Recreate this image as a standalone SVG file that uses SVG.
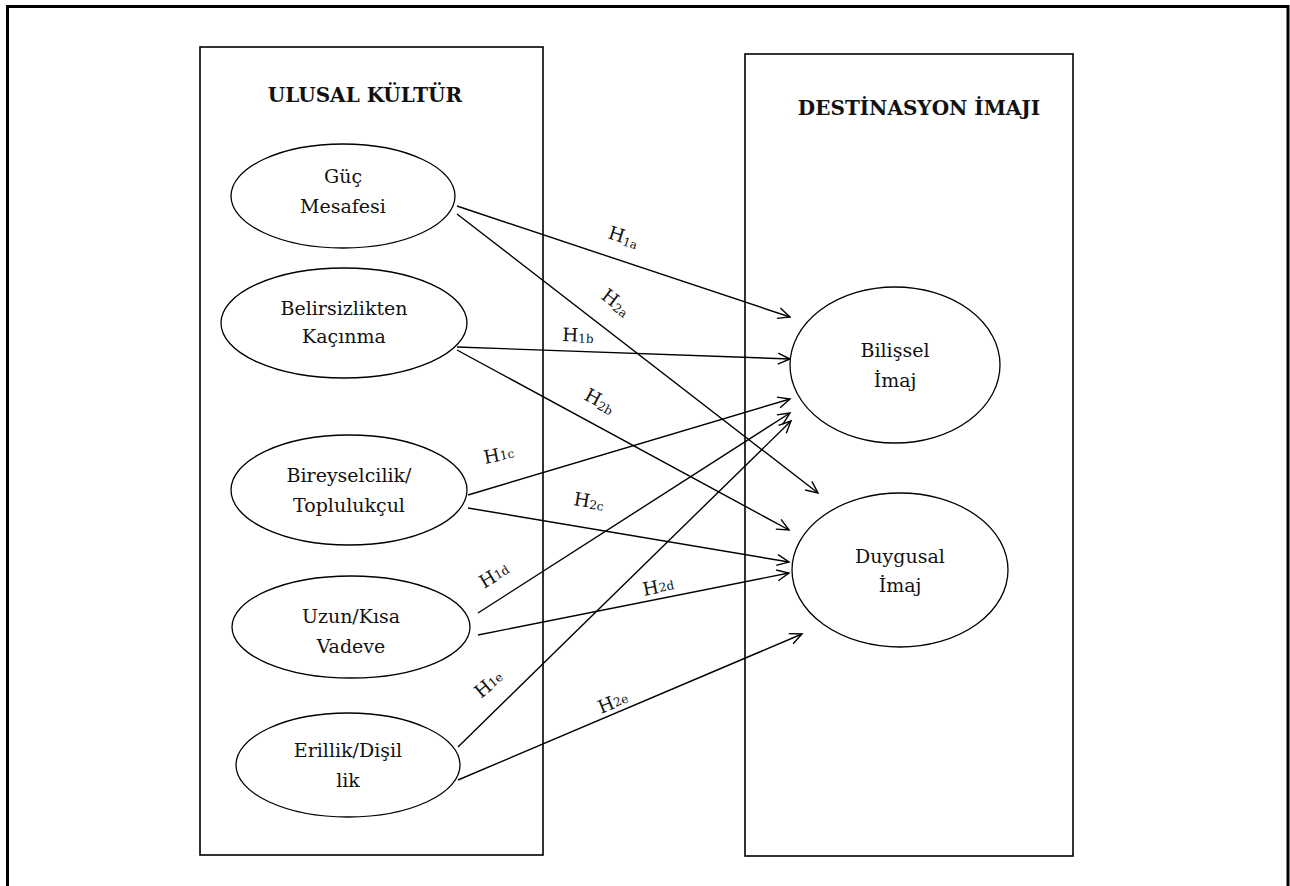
<svg xmlns="http://www.w3.org/2000/svg" width="1290" height="886" viewBox="0 0 1290 886">
<style>
.frame{fill:none;stroke:#000;stroke-width:3}
.box{fill:none;stroke:#000;stroke-width:1.6}
.node{fill:#fff;stroke:#000;stroke-width:1.3}
.t{font-family:"DejaVu Serif","Liberation Serif",serif;font-size:19px;fill:#111;text-anchor:middle}
.title{font-family:"DejaVu Serif","Liberation Serif",serif;font-size:20px;font-weight:bold;fill:#111;text-anchor:middle}
.lbl{font-family:"DejaVu Serif","Liberation Serif",serif;font-size:18.5px;fill:#111}
.sub{font-size:12px}
.conn line{stroke:#000;stroke-width:1.4;fill:none;marker-end:url(#arr)}
</style>
<defs>
<marker id="arr" viewBox="-1 -7 15 14" refX="12" refY="0" markerWidth="15" markerHeight="14" markerUnits="userSpaceOnUse" orient="auto">
<path d="M0,-5.5 L12,0 L0,5.5" fill="none" stroke="#000" stroke-width="1.4"/>
</marker>
</defs>
<rect width="1290" height="886" fill="#fff"/>
<path class="frame" d="M7.5,890 V6.5 H1288 V890"/>
<g id="ulusal-kultur">
<rect class="box" x="200" y="47" width="343" height="808"/>
<text class="title" x="365" y="102">ULUSAL KÜLTÜR</text>
</g>
<g id="destinasyon-imaji">
<rect class="box" x="745" y="54" width="328" height="802"/>
<text class="title" x="919" y="115">DESTİNASYON İMAJI</text>
</g>
<g class="conn" id="connectors">
<line x1="457" y1="206" x2="790" y2="317"/>
<line x1="457" y1="214" x2="818" y2="493"/>
<line x1="457" y1="347" x2="790" y2="359"/>
<line x1="457" y1="350" x2="789" y2="530"/>
<line x1="468" y1="495" x2="790" y2="399"/>
<line x1="468" y1="508" x2="789" y2="562"/>
<line x1="478" y1="613" x2="790" y2="413"/>
<line x1="478" y1="635" x2="789" y2="573"/>
<line x1="458" y1="747" x2="791" y2="421"/>
<line x1="458" y1="780" x2="802" y2="634"/>
</g>
<g id="labels">
<text class="lbl" transform="translate(607,238) rotate(18)">H<tspan class="sub" dy="2">1a</tspan></text>
<text class="lbl" transform="translate(600,298) rotate(37)">H<tspan class="sub" dy="2">2a</tspan></text>
<text class="lbl" transform="translate(562,341) rotate(2)">H<tspan class="sub" dy="1">1b</tspan></text>
<text class="lbl" transform="translate(583,399) rotate(28)">H<tspan class="sub" dy="2">2b</tspan></text>
<text class="lbl" transform="translate(485,464) rotate(-11)">H<tspan class="sub" dy="-1">1c</tspan></text>
<text class="lbl" transform="translate(573,505) rotate(9)">H<tspan class="sub" dy="1">2c</tspan></text>
<text class="lbl" transform="translate(484,589) rotate(-31)">H<tspan class="sub" dy="-1">1d</tspan></text>
<text class="lbl" transform="translate(644,596) rotate(-11)">H<tspan class="sub" dy="-1">2d</tspan></text>
<text class="lbl" transform="translate(481,699) rotate(-40)">H<tspan class="sub" dy="-1">1e</tspan></text>
<text class="lbl" transform="translate(601,714) rotate(-22)">H<tspan class="sub" dy="-1">2e</tspan></text>
</g>
<g id="guc-mesafesi">
<ellipse class="node" cx="343" cy="196" rx="112" ry="52"/>
<text class="t" x="343" y="183">Güç</text>
<text class="t" x="343" y="213">Mesafesi</text>
</g>
<g id="belirsizlikten-kacinma">
<ellipse class="node" cx="344" cy="323" rx="123" ry="55"/>
<text class="t" x="344" y="315">Belirsizlikten</text>
<text class="t" x="344" y="343">Kaçınma</text>
</g>
<g id="bireyselcilik">
<ellipse class="node" cx="349" cy="490" rx="118" ry="55"/>
<text class="t" x="349" y="482">Bireyselcilik/</text>
<text class="t" x="349" y="512">Toplulukçul</text>
</g>
<g id="uzun-kisa-vadeve">
<ellipse class="node" cx="351" cy="627" rx="119" ry="51"/>
<text class="t" x="351" y="623">Uzun/Kısa</text>
<text class="t" x="351" y="653">Vadeve</text>
</g>
<g id="erillik-disillik">
<ellipse class="node" cx="348" cy="765" rx="112" ry="52"/>
<text class="t" x="348" y="757">Erillik/Dişil</text>
<text class="t" x="348" y="787">lik</text>
</g>
<g id="bilissel-imaj">
<ellipse class="node" cx="895" cy="365" rx="105" ry="78"/>
<text class="t" x="895" y="357">Bilişsel</text>
<text class="t" x="895" y="387">İmaj</text>
</g>
<g id="duygusal-imaj">
<ellipse class="node" cx="900" cy="570" rx="108" ry="77"/>
<text class="t" x="900" y="563">Duygusal</text>
<text class="t" x="900" y="592">İmaj</text>
</g>
</svg>
